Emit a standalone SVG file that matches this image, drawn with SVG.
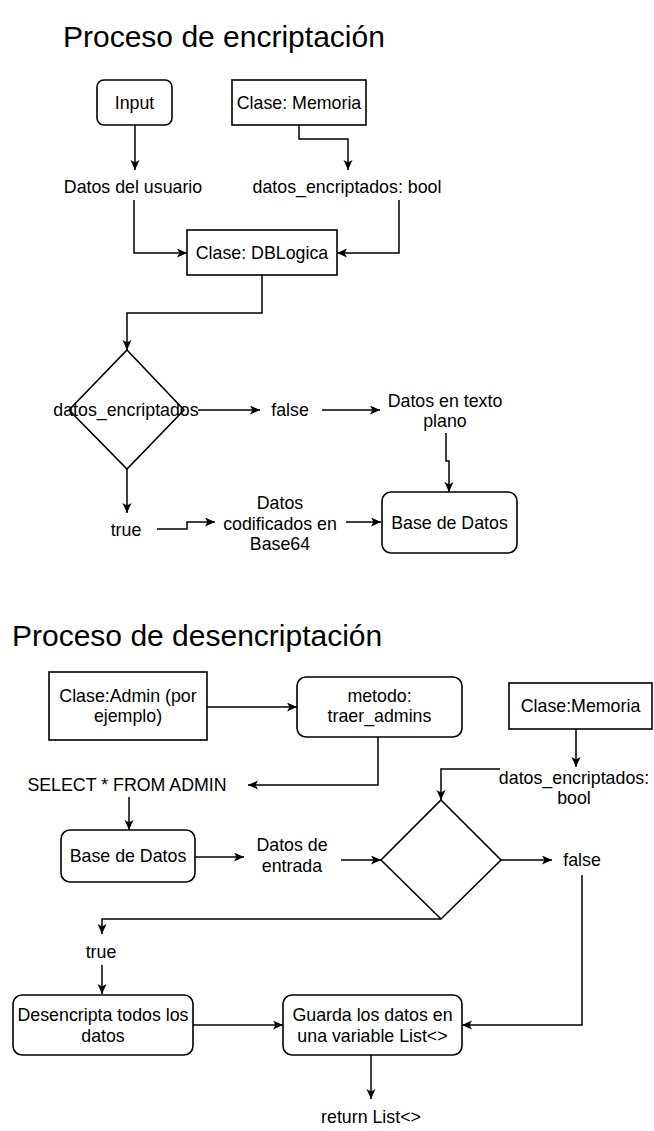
<svg xmlns="http://www.w3.org/2000/svg" width="654" height="1131" viewBox="0 0 654 1131">
<style>
.t{font-family:"Liberation Sans",Arial,sans-serif;font-size:17.8px;fill:#000;text-anchor:middle}
.title{font-family:"Liberation Sans",Arial,sans-serif;font-size:30px;fill:#000}
.box{fill:#fff;stroke:#000;stroke-width:1.6}
.e{fill:none;stroke:#000;stroke-width:1.5}
.ea{fill:none;stroke:#000;stroke-width:1.5;marker-end:url(#arr)}
</style>
<defs>
<marker id="arr" markerWidth="12" markerHeight="10" refX="10" refY="4.5" orient="auto" markerUnits="userSpaceOnUse">
<path d="M0,0 L10,4.5 L0,9 L2.5,4.5 Z" fill="#000"/>
</marker>
</defs>
<rect width="654" height="1131" fill="#fff"/>

<text class="title" x="63" y="47">Proceso de encriptación</text>
<text class="title" x="12" y="646">Proceso de desencriptación</text>

<g id="connectors">
<!-- top -->
<path class="ea" d="M135,125 V170"/>
<path class="ea" d="M299,125 V139 H348 V170"/>
<path class="ea" d="M134,200 V253 H187"/>
<path class="ea" d="M399,200 V253 H337"/>
<path class="ea" d="M262,275 V313 H127 V350"/>
<path class="ea" d="M198,410 H260"/>
<path class="ea" d="M322,410 H380"/>
<path class="ea" d="M446,433 V461 H449 V492"/>
<path class="ea" d="M127,469 V513"/>
<path class="ea" d="M157,529 H187 V522 H215"/>
<path class="ea" d="M346,522 H381"/>
<!-- bottom -->
<path class="ea" d="M207,707 H297"/>
<path class="ea" d="M378,737 V785 H248"/>
<path class="ea" d="M129,797 V830"/>
<path class="ea" d="M195,857 H244"/>
<path class="ea" d="M341,860 H381"/>
<path class="ea" d="M576,729 V767"/>
<path class="ea" d="M500,769 H441 V800"/>
<path class="ea" d="M501,860 H552"/>
<path class="ea" d="M441,919 H102 V934"/>
<path class="ea" d="M102,965 V994"/>
<path class="ea" d="M193,1025 H283"/>
<path class="ea" d="M582,875 V1025 H462"/>
<path class="ea" d="M371,1055 V1099"/>
</g>

<g id="input">
<rect class="box" x="97" y="80" width="75" height="45" rx="7"/>
<text class="t" x="134.5" y="109">Input</text>
</g>
<g id="memoria1">
<rect class="box" x="232" y="80" width="134" height="45"/>
<text class="t" x="299" y="109">Clase: Memoria</text>
</g>
<g id="datosUsuario">
<text class="t" x="133" y="193">Datos del usuario</text>
</g>
<g id="datosEncBool1">
<text class="t" x="347" y="193">datos_encriptados: bool</text>
</g>
<g id="dblogica">
<rect class="box" x="187" y="230" width="150" height="45"/>
<text class="t" x="262" y="259">Clase: DBLogica</text>
</g>
<g id="decision1">
<polygon class="box" points="127,350 184,410 127,469 69,410"/>
<text class="t" x="126" y="416">datos_encriptados</text>
</g>
<g id="false1">
<text class="t" x="290" y="416">false</text>
</g>
<g id="textoPlano">
<text class="t" x="445" y="407">Datos en texto</text>
<text class="t" x="445" y="427">plano</text>
</g>
<g id="true1">
<text class="t" x="126" y="536">true</text>
</g>
<g id="base64">
<text class="t" x="280" y="509">Datos</text>
<text class="t" x="280" y="530">codificados en</text>
<text class="t" x="280" y="550">Base64</text>
</g>
<g id="baseDatos1">
<rect class="box" x="382" y="492" width="135" height="61" rx="9"/>
<text class="t" x="449.5" y="529">Base de Datos</text>
</g>

<g id="admin">
<rect class="box" x="49" y="672" width="158" height="68"/>
<text class="t" x="128" y="702">Clase:Admin (por</text>
<text class="t" x="128" y="722">ejemplo)</text>
</g>
<g id="metodo">
<rect class="box" x="297" y="677" width="165" height="60" rx="9"/>
<text class="t" x="379.5" y="702">metodo:</text>
<text class="t" x="379.5" y="722">traer_admins</text>
</g>
<g id="memoria2">
<rect class="box" x="509" y="683" width="143" height="46"/>
<text class="t" x="580.5" y="712">Clase:Memoria</text>
</g>
<g id="select">
<text class="t" x="127" y="791">SELECT * FROM ADMIN</text>
</g>
<g id="datosEncBool2">
<text class="t" x="574" y="784">datos_encriptados:</text>
<text class="t" x="574" y="804">bool</text>
</g>
<g id="baseDatos2">
<rect class="box" x="61" y="830" width="134" height="52" rx="9"/>
<text class="t" x="128" y="862">Base de Datos</text>
</g>
<g id="datosEntrada">
<text class="t" x="292" y="851">Datos de</text>
<text class="t" x="292" y="872">entrada</text>
</g>
<g id="decision2">
<polygon class="box" points="441,800 501,860 441,919 381,860"/>
</g>
<g id="false2">
<text class="t" x="582" y="866">false</text>
</g>
<g id="true2">
<text class="t" x="101" y="958">true</text>
</g>
<g id="desencripta">
<rect class="box" x="13" y="995" width="180" height="60" rx="9"/>
<text class="t" x="103" y="1021">Desencripta todos los</text>
<text class="t" x="103" y="1042">datos</text>
</g>
<g id="guarda">
<rect class="box" x="283" y="995" width="179" height="60" rx="9"/>
<text class="t" x="372.5" y="1021">Guarda los datos en</text>
<text class="t" x="372.5" y="1042">una variable List&lt;&gt;</text>
</g>
<g id="returnList">
<text class="t" x="371" y="1123">return List&lt;&gt;</text>
</g>
</svg>
